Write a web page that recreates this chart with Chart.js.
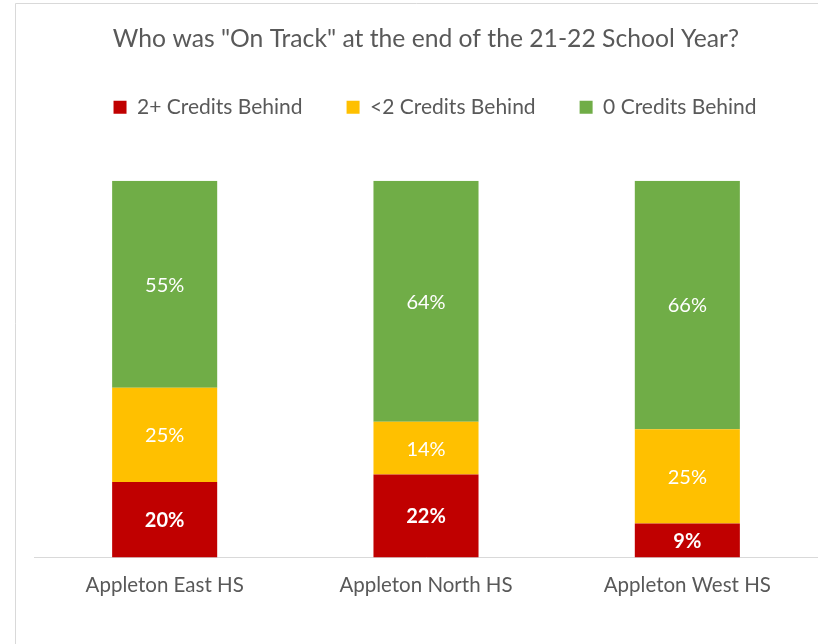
<!DOCTYPE html>
<html lang="en">
  <head>
    <meta charset="UTF-8" />
    <title>On Track 21-22</title>
    <style>
      body { margin: 0; background: #fff; }
    </style>
  </head>
  <body>
    <canvas id="chart" width="818" height="644"></canvas>

    <script src="https://cdn.jsdelivr.net/npm/chart.js@4/dist/chart.umd.min.js"></script>
    <script>
      const schools = ["Appleton East HS", "Appleton North HS", "Appleton West HS"];
      const behind2Plus = [20, 22, 9];
      const behindUnder2 = [25, 14, 25];
      const behindZero = [55, 64, 66];

      const FONT = "Lato, 'Open Sans', sans-serif";
      const GRAY = "#595959";

      // light frame like the original chart area
      const frame = {
        id: "frame",
        beforeDraw(chart) {
          const ctx = chart.ctx;
          ctx.save();
          ctx.strokeStyle = "#d9d9d9";
          ctx.lineWidth = 1;
          ctx.beginPath();
          ctx.moveTo(15.5, 644);
          ctx.lineTo(15.5, 3.5);
          ctx.lineTo(818, 3.5);
          ctx.stroke();
          ctx.restore();
        },
      };

      // extra room under the legend, and nudge it a bit right
      const legendGap = {
        id: "legendGap",
        beforeInit(chart) {
          const fit = chart.legend.fit;
          chart.legend.fit = function () {
            fit.call(this);
            this.height += 53;
          };
        },
        afterLayout(chart) {
          chart.legend.left += 9;
          chart.legend.right += 9;
        },
      };

      // percentage labels in the middle of each segment
      const segLabels = {
        id: "segLabels",
        afterDatasetsDraw(chart) {
          const ctx = chart.ctx;
          ctx.save();
          ctx.fillStyle = "#fff";
          ctx.textAlign = "center";
          ctx.textBaseline = "middle";
          chart.data.datasets.forEach((ds, i) => {
            ctx.font = (i === 0 ? "bold " : "") + "20px " + FONT;
            chart.getDatasetMeta(i).data.forEach((bar, j) => {
              const p = bar.getCenterPoint();
              ctx.fillText(ds.data[j] + "%", p.x, p.y + 1);
            });
          });
          ctx.restore();
        },
      };

      new Chart(document.getElementById("chart"), {
        type: "bar",
        data: {
          labels: schools,
          datasets: [
            { label: "2+ Credits Behind", data: behind2Plus, backgroundColor: "#C00000" },
            { label: "<2 Credits Behind", data: behindUnder2, backgroundColor: "#FFC000" },
            { label: "0 Credits Behind", data: behindZero, backgroundColor: "#70AD47" },
          ],
        },
        options: {
          responsive: false,
          animation: false,
          layout: { padding: { left: 34, right: 0, top: 0, bottom: 30 } },
          datasets: { bar: { categoryPercentage: 1, barPercentage: 0.402 } },
          scales: {
            x: {
              stacked: true,
              grid: { display: false, drawTicks: false },
              border: { color: "#d9d9d9" },
              ticks: { color: GRAY, font: { family: FONT, size: 20.5 }, padding: 16 },
            },
            y: { stacked: true, min: 0, max: 100, display: false },
          },
          plugins: {
            tooltip: { enabled: false },
            title: {
              display: true,
              text: 'Who was "On Track" at the end of the 21-22 School Year?',
              color: GRAY,
              font: { family: FONT, size: 24.7, weight: "normal" },
              padding: { top: 24, bottom: -1 },
            },
            legend: {
              labels: {
                color: GRAY,
                font: { family: FONT, size: 21 },
                boxWidth: 13,
                boxHeight: 13,
                padding: 44,
              },
            },
          },
        },
        plugins: [frame, legendGap, segLabels],
      });
    </script>
  </body>
</html>
